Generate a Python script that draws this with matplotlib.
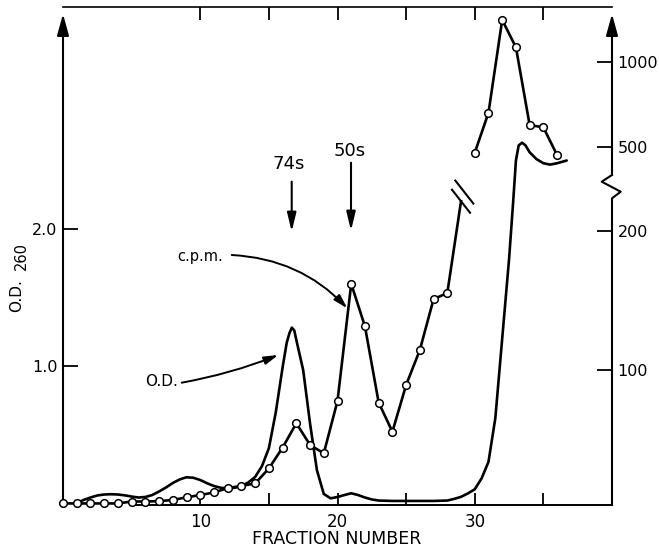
import matplotlib
matplotlib.use('Agg')
import matplotlib.pyplot as plt
from matplotlib.lines import Line2D
from matplotlib.transforms import IdentityTransform

plt.rcParams['font.family'] = ['DejaVu Sans']

# ---------------- data ----------------
fraction_ticks = [10, 15, 20, 25, 30, 35]
fraction_labels = ['10', '', '20', '', '30', '']
od_ticks = [1.0, 2.0]
od_tick_labels = ['1.0', '2.0']
cpm_low_ticks = [100, 200]
cpm_low_labels = ['100', '200']
cpm_high_ticks = [500, 1000]
cpm_high_labels = ['500', '1000']

# O.D. 260 trace
od_fraction = [1.0, 1.5, 2.0, 2.5, 3.0, 3.5, 4.0, 4.5, 5.0, 5.5, 6.0, 6.5, 7.0, 7.5,
               8.0, 8.5, 9.0, 9.5, 10.0, 10.5, 11.0, 11.5, 12.0, 12.5, 13.0, 13.5,
               14.0, 14.5, 15.0, 15.5, 16.0, 16.3, 16.5, 16.67, 16.85, 17.0, 17.5,
               18.0, 18.5, 19.0, 19.5, 20.0, 20.5, 21.0, 21.5, 22.0, 22.5, 23.0,
               24.0, 25.0, 26.0, 27.0, 28.0, 28.5, 29.0, 29.5, 30.0, 30.5, 31.0,
               31.5, 32.0, 32.5, 32.8, 33.0, 33.2, 33.45, 33.7, 34.0, 34.5, 35.0,
               35.5, 36.0, 36.7]
od_value = [0.0, 0.022, 0.04, 0.055, 0.062, 0.064, 0.062, 0.056, 0.047, 0.04, 0.044,
            0.058, 0.084, 0.113, 0.146, 0.172, 0.188, 0.184, 0.168, 0.144, 0.124,
            0.111, 0.107, 0.111, 0.124, 0.15, 0.19, 0.27, 0.40, 0.66, 0.99, 1.17,
            1.24, 1.28, 1.26, 1.19, 0.97, 0.58, 0.24, 0.066, 0.034, 0.044, 0.058,
            0.071, 0.058, 0.04, 0.026, 0.018, 0.015, 0.015, 0.015, 0.015, 0.018,
            0.03, 0.045, 0.07, 0.10, 0.18, 0.30, 0.62, 1.20, 1.78, 2.20, 2.50,
            2.61, 2.63, 2.61, 2.56, 2.51, 2.48, 2.47, 2.48, 2.50]

# c.p.m., lower (unbroken) log scale; last value is where the line is cut by the break
cpm_fraction_low = list(range(0, 30))
cpm_low = [51.4, 51.4, 51.4, 51.4, 51.4, 51.9, 51.9, 52.0, 52.3, 53.0, 53.6, 54.3,
           55.5, 56.1, 56.8, 61.2, 67.9, 76.7, 68.8, 66.0, 85.7, 153.7, 124.3, 85.0,
           73.5, 92.8, 110.5, 142.4, 146.8, 232]
# c.p.m., upper (compressed) log scale above the axis break
cpm_fraction_high = [30, 31, 32, 33, 34, 35, 36]
cpm_high = [477, 661, 1409, 1127, 598, 587, 468]

# ---------------- figure ----------------
W, H = 659, 551
fig = plt.figure(figsize=(W / 100, H / 100), dpi=100)
x0, x1 = 63, 612          # pixel x of fraction 0 and 40
ybot, ytop = 505, 7       # pixel y of axes bottom / top
ax = fig.add_axes([x0 / W, (H - ybot) / H, (x1 - x0) / W, (ybot - ytop) / H])

px_per_od = 137.0
ax.set_xlim(0, 40)
ax.set_ylim(-(ybot - 503) / px_per_od, (503 - ytop) / px_per_od)

ax2 = ax.twinx()
ax2.set_yscale('log')
dec_low = 461.7
ax2.set_ylim(100 * 10 ** (-(ybot - 370) / dec_low), 100 * 10 ** ((370 - ytop) / dec_low))

ax3 = ax.twinx()
ax3.set_yscale('log')
dec_high = 282.4
ax3.set_ylim(500 * 10 ** (-(ybot - 147) / dec_high), 500 * 10 ** ((147 - ytop) / dec_high))

lw_data = 1.9
ax.plot(od_fraction, od_value, color='black', lw=lw_data, solid_capstyle='round',
        solid_joinstyle='round', clip_on=False, zorder=3)
ax2.plot(cpm_fraction_low, cpm_low, color='black', lw=lw_data, marker='o', ms=5.5,
         mfc='white', mec='black', mew=1.1, markevery=list(range(len(cpm_low) - 1)),
         clip_on=False, zorder=4)
ax3.plot(cpm_fraction_high, cpm_high, color='black', lw=lw_data, marker='o', ms=5.5,
         mfc='white', mec='black', mew=1.1, clip_on=False, zorder=4)

# ---------------- axes styling ----------------
for a in (ax, ax2, ax3):
    for s in a.spines.values():
        s.set_visible(False)
ax.spines['top'].set_visible(True)
ax.spines['top'].set_linewidth(1.2)
ax.spines['bottom'].set_visible(True)
ax.spines['bottom'].set_linewidth(1.4)
ax.spines['bottom'].set_bounds(5.3, 40)

ax.set_xticks(fraction_ticks)
ax.set_xticklabels(fraction_labels)
ax.tick_params(axis='x', which='both', direction='in', top=True, bottom=True,
               length=9, width=1.3, pad=6, labelsize=12)
ax.set_yticks(od_ticks)
ax.set_yticklabels(od_tick_labels)
ax.tick_params(axis='y', which='both', direction='in', left=True, right=False,
               length=11, width=1.3, pad=4, labelsize=11.5)

ax2.set_yticks(cpm_low_ticks)
ax2.set_yticklabels(cpm_low_labels)
ax2.yaxis.set_minor_locator(matplotlib.ticker.NullLocator())
ax2.tick_params(axis='y', which='both', direction='in', right=True, left=False,
                length=11, width=1.3, pad=4, labelsize=11.5)
ax3.set_yticks(cpm_high_ticks)
ax3.set_yticklabels(cpm_high_labels)
ax3.yaxis.set_minor_locator(matplotlib.ticker.NullLocator())
ax3.tick_params(axis='y', which='both', direction='in', right=True, left=False,
                length=11, width=1.3, pad=4, labelsize=11.5)

def yf(py):
    return (ybot - py) / (ybot - ytop)

def xf(px):
    return (px - x0) / (x1 - x0)

axis_arrow = dict(arrowstyle='-|>,head_length=0.65,head_width=0.18', mutation_scale=20,
                  lw=1.5, color='black', shrinkA=0, shrinkB=0)
# left axis with arrow
ax.annotate('', xy=(0, yf(14)), xytext=(0, 0), xycoords='axes fraction',
            arrowprops=axis_arrow, annotation_clip=False)
# right axis: lower part, zigzag break, upper part with arrow
ax.add_line(Line2D([1, 1, xf(620.7), xf(601.7), 1],
                   [0, yf(198.3), yf(191.7), yf(181.7), yf(175)],
                   transform=ax.transAxes, color='black', lw=1.5, clip_on=False))
ax.annotate('', xy=(1, yf(14)), xytext=(1, yf(175)), xycoords='axes fraction',
            arrowprops=axis_arrow, annotation_clip=False)

# axis labels
fig.text(337 / W, 1 - 539 / H, 'FRACTION NUMBER', ha='center', va='center', fontsize=12.5)
fig.text(17 / W, 1 - 296 / H, 'O.D.', rotation=90, ha='center', va='center', fontsize=11)
fig.text(21 / W, 1 - 256 / H, '260', rotation=90, ha='center', va='center', fontsize=10.5)

# ---------------- annotations ----------------
def od_of(py):
    return (503 - py) / px_per_od

def fr_of(px):
    return (px - x0) / ((x1 - x0) / 40)

down_arrow = dict(arrowstyle='-|>,head_length=0.75,head_width=0.18', mutation_scale=15,
                  lw=1.5, color='black', shrinkA=0, shrinkB=0)
ax.text(fr_of(288.5), od_of(164), '74s', ha='center', va='center', fontsize=13)
ax.annotate('', xy=(fr_of(291.7), od_of(231.7)), xytext=(fr_of(291.7), od_of(181.7)),
            arrowprops=down_arrow)
ax.text(fr_of(350), od_of(151), '50s', ha='center', va='center', fontsize=13)
ax.annotate('', xy=(fr_of(351), od_of(230.7)), xytext=(fr_of(351), od_of(162.7)),
            arrowprops=down_arrow)

label_arrow = dict(arrowstyle='-|>,head_length=0.7,head_width=0.2', mutation_scale=12,
                   lw=1.4, color='black', shrinkA=0, shrinkB=0)
ax.text(fr_of(200), od_of(257), 'c.p.m.', ha='center', va='center', fontsize=10.5)
ax.annotate('', xy=(fr_of(347.3), od_of(308.3)), xytext=(fr_of(231.7), od_of(255)),
            arrowprops=dict(label_arrow, connectionstyle='arc3,rad=-0.2'))
ax.text(fr_of(162), od_of(382), 'O.D.', ha='center', va='center', fontsize=11)
ax.annotate('', xy=(fr_of(278.3), od_of(355)), xytext=(fr_of(181.7), od_of(382.7)),
            arrowprops=dict(label_arrow, connectionstyle='arc3,rad=0.05'))

# break marks on the c.p.m. trace where it leaves the lower scale
px, py = ax2.transData.transform((cpm_fraction_low[-1], cpm_low[-1]))
for cx, cy in ((px, py), (px + 3.3, py + 9.2)):
    fig.add_artist(Line2D([cx - 9, cx + 9], [cy + 11.5, cy - 11.5],
                          transform=IdentityTransform(), color='black', lw=1.5))

fig.savefig('out.png', dpi=100)
